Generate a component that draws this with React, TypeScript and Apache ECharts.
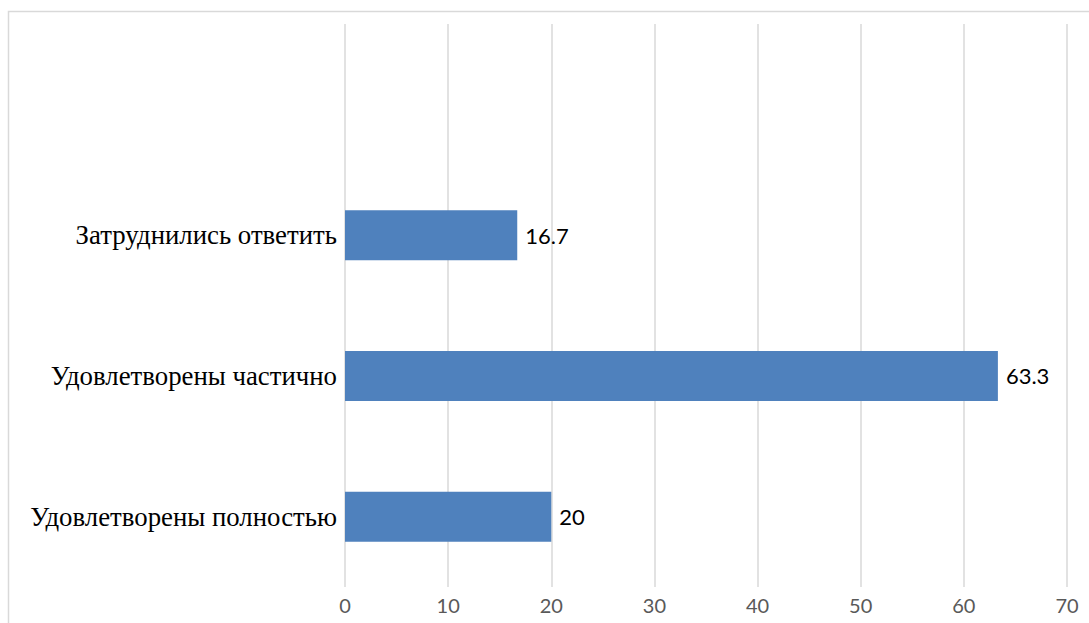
import React, { useEffect, useRef } from "react";
import * as echarts from "echarts";

const categories = ["Удовлетворены полностью", "Удовлетворены частично", "Затруднились ответить", ""];
const values = [20, 63.3, 16.7, null];
const xTicks = { min: 0, max: 70, interval: 10 };

export default function App() {
  const ref = useRef<HTMLDivElement>(null);
  useEffect(() => {
    document.body.style.margin = "0";
    const chart = echarts.init(ref.current!, null, { renderer: "svg" });
    chart.setOption({
      animation: false,
      backgroundColor: "#ffffff",
      graphic: [
        {
          type: "rect",
          shape: { x: 8.5, y: 11.5, width: 1200, height: 700 },
          style: { fill: "none", stroke: "#d9d9d9", lineWidth: 1.5 },
          silent: true,
        },
      ],
      grid: { left: 345, right: 22, top: 24, bottom: 36, containLabel: false },
      xAxis: {
        type: "value",
        min: xTicks.min,
        max: xTicks.max,
        interval: xTicks.interval,
        axisLine: { show: false },
        axisTick: { show: false },
        splitLine: { show: true, lineStyle: { color: "#d9d9d9", width: 1.5 } },
        axisLabel: { color: "#595959", fontSize: 20, fontFamily: "Lato, 'Open Sans', sans-serif", margin: 8 },
      },
      yAxis: {
        type: "category",
        data: categories,
        axisLine: { show: false },
        axisTick: { show: false },
        splitLine: { show: false },
        axisLabel: { color: "#000000", fontSize: 26.8, fontFamily: "'Liberation Serif', 'DejaVu Serif', serif", margin: 8 },
      },
      series: [
        {
          type: "bar",
          data: values,
          barWidth: 50,
          itemStyle: { color: "#4f81bd" },
          label: {
            show: true,
            position: "right",
            distance: 8,
            color: "#000000",
            fontSize: 22,
            fontFamily: "Lato, 'Open Sans', sans-serif",
          },
        },
      ],
    });
    return () => chart.dispose();
  }, []);
  return <div ref={ref} style={{ position: "absolute", left: 0, top: 0, width: 1089, height: 623 }} />;
}
